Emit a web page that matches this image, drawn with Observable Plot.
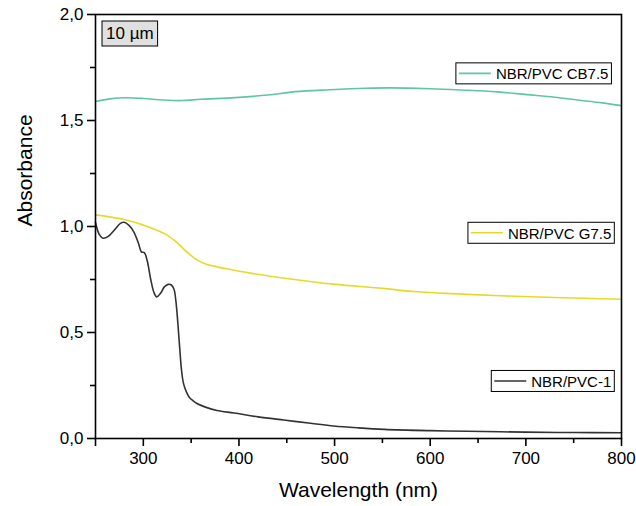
<!DOCTYPE html>
<html><head><meta charset="utf-8">
<script src="https://cdn.jsdelivr.net/npm/d3@7"></script>
<script src="https://cdn.jsdelivr.net/npm/@observablehq/plot@0.6"></script>
<style>body{margin:0;background:#fff;} svg{display:block;}</style>
</head><body><div id="chart"></div>
<script>
// ---- data ----
const seriesNames = ["NBR/PVC CB7.5", "NBR/PVC G7.5", "NBR/PVC-1"];
const seriesColors = ["#5ec7a0", "#e6da28", "#333333"];

const wlCB = [250, 265, 281, 300, 320, 340, 360, 396, 430, 459, 495, 532, 558, 600, 632, 670, 701, 730, 754, 780, 800];
const absCB = [1.590, 1.602, 1.607, 1.604, 1.597, 1.594, 1.600, 1.608, 1.620, 1.636, 1.645, 1.652, 1.654, 1.650, 1.644, 1.635, 1.622, 1.610, 1.597, 1.583, 1.570];

const wlG = [250, 281, 302, 323, 335, 344, 352, 358, 366, 375, 390, 412, 450, 499, 550, 586, 630, 674, 730, 800];
const absG = [1.055, 1.032, 1.004, 0.964, 0.925, 0.886, 0.856, 0.838, 0.822, 0.812, 0.798, 0.780, 0.755, 0.728, 0.708, 0.692, 0.682, 0.673, 0.665, 0.657];

const wlP = [250, 254, 258, 263, 270, 276, 280, 285, 290, 295, 298, 301, 304, 308, 311, 314, 318, 322, 326, 329, 332, 334, 336, 338, 340, 342, 345, 348, 352, 356, 365, 377, 395, 420, 447, 475, 499, 525, 552, 600, 639, 700, 750, 800];
const absP = [1.019, 0.962, 0.945, 0.952, 0.985, 1.015, 1.020, 1.005, 0.975, 0.920, 0.880, 0.877, 0.840, 0.745, 0.690, 0.668, 0.685, 0.715, 0.727, 0.725, 0.705, 0.650, 0.550, 0.430, 0.320, 0.260, 0.220, 0.195, 0.178, 0.165, 0.148, 0.132, 0.120, 0.102, 0.087, 0.072, 0.059, 0.050, 0.043, 0.037, 0.034, 0.030, 0.028, 0.027];

const xMajorTicks = [250, 300, 400, 500, 600, 700, 800];
const xMinorTicks = [350, 450, 550, 650, 750];
const yMajorTicks = [0, 0.5, 1.0, 1.5, 2.0];
const yMinorTicks = [0.25, 0.75, 1.25, 1.75];
const xTitle = "Wavelength (nm)";
const yTitle = "Absorbance";
const panelLabel = "10 µm";

// ---- layout ----
const legendAnchorX = [790, 793, 793];   // legend box right edge (data units)
const legendAnchorY = [1.72, 0.968, 0.269]; // legend box vertical centre (data units)
const W = 636, H = 506, mL = 95, mR = 15, mT = 14, mB = 68;
const xDom = [250, 800], yDom = [0, 2];

const rows = [];
[[wlCB, absCB], [wlG, absG], [wlP, absP]].forEach(([w, a], i) => {
  w.forEach((x, j) => rows.push({series: seriesNames[i], wl: x, abs: a[j]}));
});

const font = "'Liberation Sans', Arial, sans-serif";
const fmtY = d => d.toFixed(1).replace(".", ",");

const chart = Plot.plot({
  width: W, height: H,
  marginLeft: mL, marginRight: mR, marginTop: mT, marginBottom: mB,
  style: {fontFamily: font, background: "#fff", color: "#000"},
  x: {domain: xDom},
  y: {domain: yDom},
  color: {domain: seriesNames, range: seriesColors},
  marks: [
    Plot.line(rows, {x: "wl", y: "abs", z: "series", stroke: "series", strokeWidth: 1.6, curve: "catmull-rom"}),
    Plot.frame({stroke: "#000", strokeWidth: 1.6}),
    Plot.axisX(xMajorTicks, {stroke: "#000", strokeWidth: 1.6, tickSize: 8, tickPadding: 5, fontSize: 17, tickFormat: d => d === 250 ? "" : String(d), label: null}),
    Plot.axisX(xMinorTicks, {stroke: "#000", strokeWidth: 1.6, tickSize: 5, tickFormat: () => "", label: null}),
    Plot.axisY(yMajorTicks, {stroke: "#000", strokeWidth: 1.6, tickSize: 8, tickPadding: 4, fontSize: 17, tickFormat: fmtY, label: null}),
    Plot.axisY(yMinorTicks, {stroke: "#000", strokeWidth: 1.6, tickSize: 5, tickFormat: () => "", label: null}),
    Plot.text([xTitle], {frameAnchor: "bottom", dy: 58, fontSize: 21, text: d => d}),
    Plot.text([yTitle], {frameAnchor: "left", dx: -70, rotate: -90, fontSize: 21, text: d => d})
  ]
});
document.getElementById("chart").appendChild(chart);

const sx = chart.scale("x"), sy = chart.scale("y");
const svg = d3.select(chart);
const x0 = sx.apply(xDom[0]), yTop = sy.apply(yDom[1]);

// panel label box
const pg = svg.append("g").attr("text-anchor", "start");
const pt = pg.append("text").attr("x", x0 + 11).attr("y", yTop + 25).attr("font-size", 17).attr("font-family", font).attr("fill", "#000").text(panelLabel);
const pw = pt.node().getComputedTextLength();
pg.insert("rect", "text").attr("x", x0 + 7).attr("y", yTop + 7).attr("width", pw + 8).attr("height", 25)
  .attr("fill", "#e0e0e0").attr("stroke", "#000").attr("stroke-width", 1);

// legends
seriesNames.forEach((name, i) => {
  const right = sx.apply(legendAnchorX[i]);
  const cy = sy.apply(legendAnchorY[i]);
  const g = svg.append("g").attr("text-anchor", "start");
  const t = g.append("text").attr("font-size", 15).attr("font-family", font).attr("fill", "#000")
    .attr("dominant-baseline", "central").text(name);
  const tw = t.node().getComputedTextLength();
  const lineLen = 32;
  const left = right - (3 + lineLen + 5 + tw + 3);
  t.attr("x", left + 3 + lineLen + 5).attr("y", cy + 0.5);
  g.insert("rect", "text").attr("x", left).attr("y", cy - 10.5).attr("width", right - left).attr("height", 21)
    .attr("fill", "#fff").attr("stroke", "#000").attr("stroke-width", 1);
  g.append("line").attr("x1", left + 3).attr("x2", left + 3 + lineLen).attr("y1", cy).attr("y2", cy)
    .attr("stroke", seriesColors[i]).attr("stroke-width", 1.6);
});
</script>
</body></html>
